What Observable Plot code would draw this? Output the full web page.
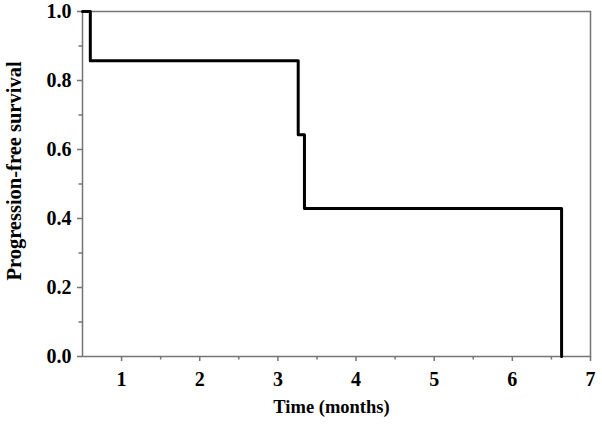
<!DOCTYPE html>
<html>
<head>
<meta charset="utf-8">
<script src="https://cdn.jsdelivr.net/npm/d3@7"></script>
<script src="https://cdn.jsdelivr.net/npm/@observablehq/plot@0.6"></script>
<style>
  html, body { margin: 0; padding: 0; background: #fff; }
  svg { font-family: "Liberation Serif", "Times New Roman", serif; }
</style>
</head>
<body>
<div id="chart"></div>
<script>
const times = [0.5, 0.6, 3.26, 3.34, 6.63];
const survival = [1.0, 0.857, 0.643, 0.429, 0.0];
const xTicks = [1, 2, 3, 4, 5, 6, 7];
const xMinorTicks = [1.5, 2.5, 3.5, 4.5, 5.5, 6.5];
const yTicks = [0.0, 0.2, 0.4, 0.6, 0.8, 1.0];
const yMinorTicks = [0.1, 0.3, 0.5, 0.7, 0.9];
const xTitle = "Time (months)";
const yTitle = "Progression-free survival";

const data = times.map((t, i) => ({time: t, surv: survival[i]}));
const axisColor = "#747474";

const chart = Plot.plot({
  width: 602,
  height: 424,
  marginLeft: 82,
  marginRight: 12,
  marginTop: 11,
  marginBottom: 68,
  style: {fontFamily: "'Liberation Serif', 'Times New Roman', serif", background: "#fff"},
  x: {domain: [0.5, 7], label: null},
  y: {domain: [0, 1], label: null},
  marks: [
    Plot.frame({stroke: axisColor, strokeWidth: 1.5}),
    Plot.axisX(xMinorTicks, {tickSize: 3.5, text: null, label: null, stroke: axisColor, strokeWidth: 1.5}),
    Plot.axisY(yMinorTicks, {tickSize: 3.5, text: null, label: null, stroke: axisColor, strokeWidth: 1.5}),
    Plot.axisX(xTicks, {
      tickSize: 5, tickPadding: 10, stroke: axisColor, strokeWidth: 1.5, fill: "black",
      fontSize: 20, fontWeight: "bold", tickFormat: d => String(d), label: null
    }),
    Plot.axisY(yTicks, {
      tickSize: 5, tickPadding: 6, stroke: axisColor, strokeWidth: 1.5, fill: "black",
      fontSize: 20, fontWeight: "bold", tickFormat: d => d.toFixed(1), label: null
    }),
    Plot.text([xTitle], {
      frameAnchor: "bottom", dy: 51, dx: -5, lineAnchor: "middle", textAnchor: "middle",
      fontSize: 18.5, fontWeight: "bold", fill: "black"
    }),
    Plot.text([yTitle], {
      frameAnchor: "left", rotate: -90, dx: -68, dy: -13, lineAnchor: "middle", textAnchor: "middle",
      fontSize: 20.5, fontWeight: "bold", fill: "black"
    }),
    Plot.line(data, {x: "time", y: "surv", curve: "step-after", stroke: "black", strokeWidth: 3})
  ]
});
document.getElementById("chart").appendChild(chart);
</script>
</body>
</html>
